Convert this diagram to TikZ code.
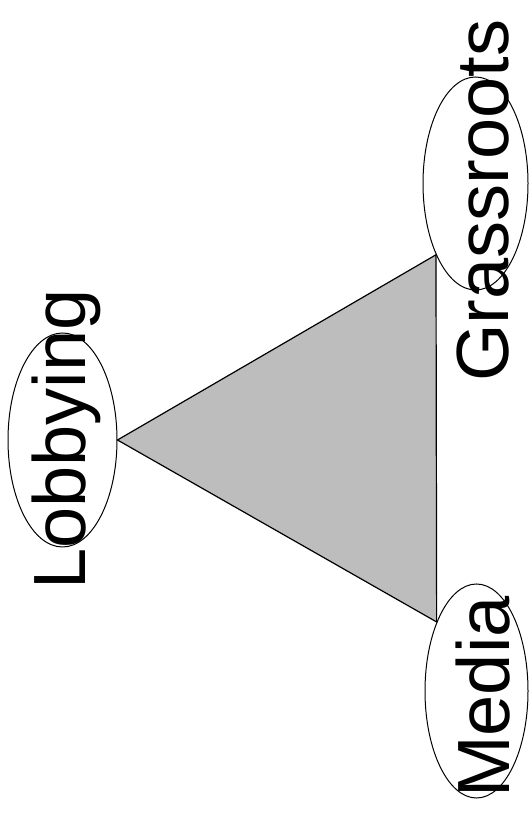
\documentclass[tikz,border=0pt]{standalone}
\usepackage{fontspec}
\setmainfont{Liberation Sans}
\usepackage{xcolor}
\usepackage{tikz}
\usetikzlibrary{shapes.geometric}
\usetikzlibrary{positioning}
\tikzset{
  elipse/.style n args={2}{draw, ellipse, line width=1pt, inner sep=0pt, minimum width=#1, minimum height=#2},
  rotulo/.style={rotate=90, anchor=base west, inner sep=0pt, font=\fontsize{74}{80}\selectfont},
  triangulo/.style={draw, line width=1.2pt, fill=black!26, line join=miter},
}

\begin{document}
\begin{tikzpicture}[x=1pt, y=1pt]
  \useasboundingbox (0,0) rectangle (530,818);
  % os tres vertices
  \node[elipse={109pt}{214pt}] (lob) at (62.5,378) {};
  \node[elipse={105pt}{213pt}] (gra) at (475.5,634.5) {};
  \node[elipse={103pt}{214pt}] (med) at (476.5,127) {};
  \filldraw[triangulo] (lob.east) -- (gra.241) -- (med.120) -- cycle;
  % textos
  \node[rotulo] (tlob) at (85,228) {Lobbying};
  \node[rotulo] (tgra) at (508,436) {Grassroots};
  \node[rotulo] (tmed) at (509,20) {Media};
\end{tikzpicture}
\end{document}
